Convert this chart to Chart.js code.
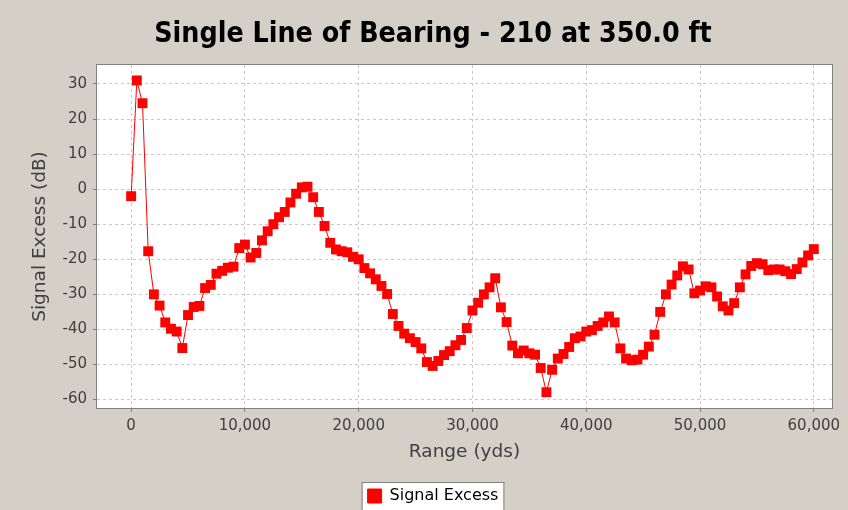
<!DOCTYPE html>
<html>
<head>
<meta charset="utf-8">
<script src="https://cdn.jsdelivr.net/npm/chart.js@4.4.0/dist/chart.umd.min.js"></script>
<style>
  html, body { margin: 0; padding: 0; background: #d4d0c8; }
</style>
</head>
<body>
<canvas id="myChart" width="848" height="510"></canvas>
<script>
// datos: rango (yds) y exceso de senal (dB)
const ranges = [
  0, 500, 1000, 1500, 2000, 2500, 3000, 3500, 4000, 4500,
  5000, 5500, 6000, 6500, 7000, 7500, 8000, 8500, 9000, 9500,
  10000, 10500, 11000, 11500, 12000, 12500, 13000, 13500, 14000, 14500,
  15000, 15500, 16000, 16500, 17000, 17500, 18000, 18500, 19000, 19500,
  20000, 20500, 21000, 21500, 22000, 22500, 23000, 23500, 24000, 24500,
  25000, 25500, 26000, 26500, 27000, 27500, 28000, 28500, 29000, 29500,
  30000, 30500, 31000, 31500, 32000, 32500, 33000, 33500, 34000, 34500,
  35000, 35500, 36000, 36500, 37000, 37500, 38000, 38500, 39000, 39500,
  40000, 40500, 41000, 41500, 42000, 42500, 43000, 43500, 44000, 44500,
  45000, 45500, 46000, 46500, 47000, 47500, 48000, 48500, 49000, 49500,
  50000, 50500, 51000, 51500, 52000, 52500, 53000, 53500, 54000, 54500,
  55000, 55500, 56000, 56500, 57000, 57500, 58000, 58500, 59000, 59500,
  60000
];
const signalExcess = [
  -2, 31, 24.5, -17.7, -30, -33.2, -38, -39.8, -40.6, -45.3,
  -35.9, -33.6, -33.3, -28.2, -27.3, -24.1, -23.3, -22.4, -22.1, -16.8,
  -15.8, -19.5, -18.2, -14.6, -12, -10, -8, -6.5, -3.8, -1.3,
  0.5, 0.7, -2.3, -6.5, -10.5, -15.3, -17.2, -17.7, -18, -19.3,
  -20, -22.5, -24, -25.7, -27.6, -29.9, -35.6, -39, -41.2, -42.5,
  -43.6, -45.4, -49.3, -50.4, -49, -47.3, -46.2, -44.5, -43, -39.6,
  -34.6, -32.4, -30, -28, -25.4, -33.7, -37.9, -44.6, -46.8, -46,
  -46.8, -47.2, -51, -57.9, -51.5, -48.3, -47, -45, -42.5, -42,
  -40.6, -40.2, -39, -38, -36.3, -38, -45.4, -48.3, -48.8, -48.6,
  -47.2, -44.9, -41.5, -35, -30, -27.2, -24.6, -22, -22.9, -29.7,
  -28.9, -27.7, -28, -30.6, -33.4, -34.6, -32.5, -28, -24.3, -21.9,
  -21.1, -21.4, -23.1, -22.9, -22.9, -23.4, -24.2, -22.8, -20.9, -18.9,
  -17.1
];
const xTicks = [0, 10000, 20000, 30000, 40000, 50000, 60000];
const yTicks = [-60, -50, -40, -30, -20, -10, 0, 10, 20, 30];

const fondo = "#d4d0c8";
const gris = "#808080";
const fuenteTexto = "'DejaVu Sans', sans-serif";

// plugin para el fondo gris, area blanca, borde y caja de leyenda
const fondoPlugin = {
  id: "fondo",
  beforeDraw(chart) {
    const { ctx, chartArea: a } = chart;
    ctx.save();
    ctx.fillStyle = fondo;
    ctx.fillRect(0, 0, chart.width, chart.height);
    ctx.fillStyle = "#ffffff";
    ctx.fillRect(a.left, a.top, a.right - a.left, a.bottom - a.top);
    const hb = chart.legend && chart.legend.legendHitBoxes && chart.legend.legendHitBoxes[0];
    if (hb) {
      ctx.fillStyle = "#ffffff";
      ctx.strokeStyle = gris;
      ctx.lineWidth = 1;
      ctx.fillRect(hb.left - 5, hb.top - 5, hb.width + 10, hb.height + 30);
      ctx.strokeRect(hb.left - 5.5, hb.top - 5.5, hb.width + 11, hb.height + 30);
    }
    ctx.restore();
  },
  beforeDatasetsDraw(chart) {
    const { ctx, chartArea: a } = chart;
    ctx.save();
    ctx.strokeStyle = gris;
    ctx.lineWidth = 1;
    ctx.strokeRect(a.left - 0.5, a.top - 0.5, a.right - a.left + 1, a.bottom - a.top + 1);
    ctx.restore();
  }
};

const config = {
  type: "line",
  data: {
    labels: ranges,
    datasets: [{
      label: "Signal Excess",
      data: ranges.map((r, i) => ({ x: r, y: signalExcess[i] })),
      borderColor: "#ff0000",
      backgroundColor: "#ff0000",
      borderWidth: 1,
      pointStyle: "rect",
      pointRadius: 7,
      pointBorderWidth: 0,
      pointBackgroundColor: "#ff0000",
      tension: 0
    }]
  },
  options: {
    responsive: false,
    animation: false,
    layout: { padding: { left: 34, right: 16, top: 0, bottom: -4 } },
    plugins: {
      title: {
        display: true,
        text: "Single Line of Bearing - 210 at 350.0 ft",
        color: "#000000",
        font: { family: "'Liberation Sans Narrow', 'DejaVu Sans Condensed', sans-serif", size: 28.3, weight: "bold", lineHeight: 1 },
        padding: { top: 20, bottom: 16.7 }
      },
      legend: {
        position: "bottom",
        labels: {
          boxWidth: 14,
          boxHeight: 14,
          padding: 8,
          color: "#000000",
          font: { family: fuenteTexto, size: 16 }
        }
      },
      tooltip: { enabled: false }
    },
    scales: {
      x: {
        type: "linear",
        min: -3000,
        max: 61600,
        afterBuildTicks: (scale) => { scale.ticks = xTicks.map(v => ({ value: v })); },
        afterFit: (scale) => { scale.height = 72; },
        grid: { color: "#c8c8c8", tickColor: gris, tickLength: 4, tickBorderDash: [] },
        border: { display: false, dash: [3, 3] },
        ticks: {
          padding: 5,
          color: "#404040",
          font: { family: fuenteTexto, size: 15 },
          maxRotation: 0,
          callback: (v) => v.toLocaleString("en-US")
        },
        title: {
          display: true,
          text: "Range (yds)",
          color: "#404040",
          font: { family: fuenteTexto, size: 18.5 },
          padding: { top: 0, bottom: 17 }
        }
      },
      y: {
        min: -62.4,
        max: 35.4,
        afterBuildTicks: (scale) => { scale.ticks = yTicks.map(v => ({ value: v })); },
        afterFit: (scale) => { scale.width = 63; },
        grid: { color: "#c8c8c8", tickColor: gris, tickLength: 4, tickBorderDash: [] },
        border: { display: false, dash: [3, 3] },
        ticks: {
          padding: 6,
          color: "#404040",
          font: { family: fuenteTexto, size: 15 }
        },
        title: {
          display: true,
          text: "Signal Excess (dB)",
          color: "#404040",
          font: { family: fuenteTexto, size: 18.5 },
          padding: { top: -5, bottom: 0 }
        }
      }
    }
  },
  plugins: [fondoPlugin]
};

const myChart = new Chart(document.getElementById("myChart"), config);
</script>
</body>
</html>
